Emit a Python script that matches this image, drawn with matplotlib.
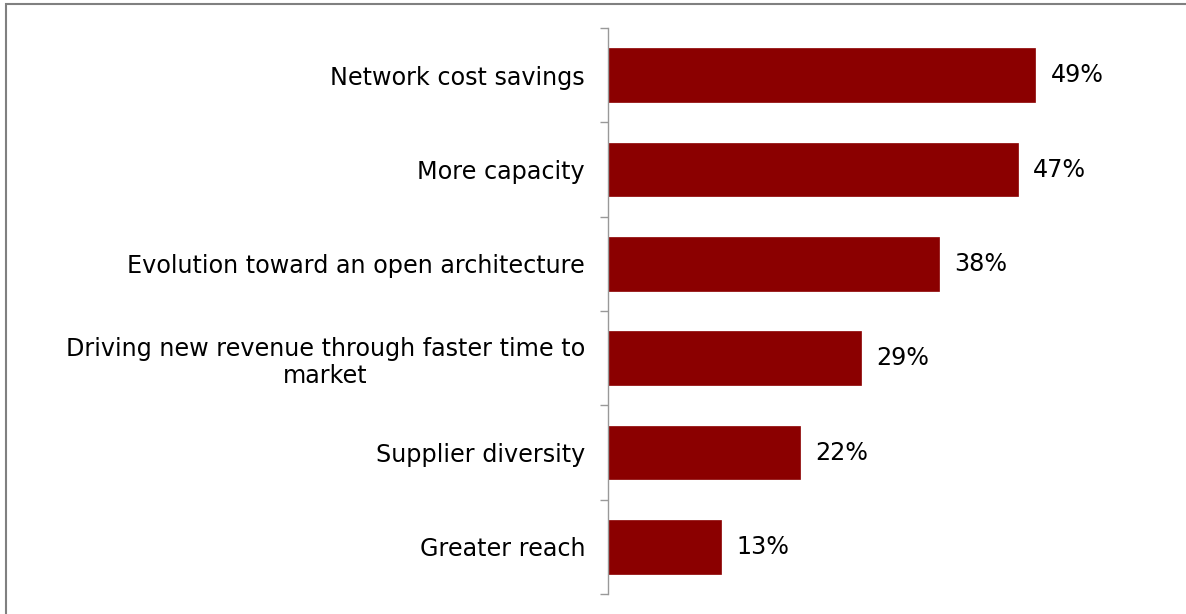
import matplotlib.pyplot as plt
from matplotlib.patches import Rectangle

categories = [
    "Network cost savings",
    "More capacity",
    "Evolution toward an open architecture",
    "Driving new revenue through faster time to\nmarket",
    "Supplier diversity",
    "Greater reach",
]
values = [49, 47, 38, 29, 22, 13]

bar_color = "#8B0000"
axis_gray = "#999999"
font_size = 17.2

plt.rcParams["font.family"] = ["DejaVu Sans"]

fig = plt.figure(figsize=(11.86, 6.14), dpi=100)
fig.patch.set_facecolor("white")

# outer frame around the chart area
fig.add_artist(Rectangle((6 / 1186, -0.01), 1.2, 1 - 4 / 614 + 0.01,
                         transform=fig.transFigure, fill=False,
                         edgecolor="#808080", linewidth=1.5))

ax = fig.add_axes([608 / 1186, 20 / 614, (1180 - 608) / 1186, (594 - 28) / 614])

y = list(range(len(categories)))
ax.barh(y, values, height=0.57, color=bar_color, edgecolor=bar_color, linewidth=0.5)
ax.set_ylim(len(categories) - 0.5, -0.5)
ax.set_xlim(0, 65.6)

for yi, v in zip(y, values):
    ax.text(v + 1.75, yi, f"{v}%", va="center", ha="left", fontsize=font_size, color="black")

ax.set_yticks(y)
ax.set_yticklabels(categories, fontsize=font_size, multialignment="center", linespacing=1.2)
ax.tick_params(axis="y", length=0, pad=16.5)
ax.set_yticks([i - 0.5 for i in range(len(categories) + 1)], minor=True)
ax.tick_params(axis="y", which="minor", length=6, color=axis_gray, width=1)
ax.set_xticks([])

for s in ["top", "right", "bottom"]:
    ax.spines[s].set_visible(False)
ax.spines["left"].set_color(axis_gray)
ax.spines["left"].set_linewidth(1)

fig.savefig("out.png", dpi=100)
